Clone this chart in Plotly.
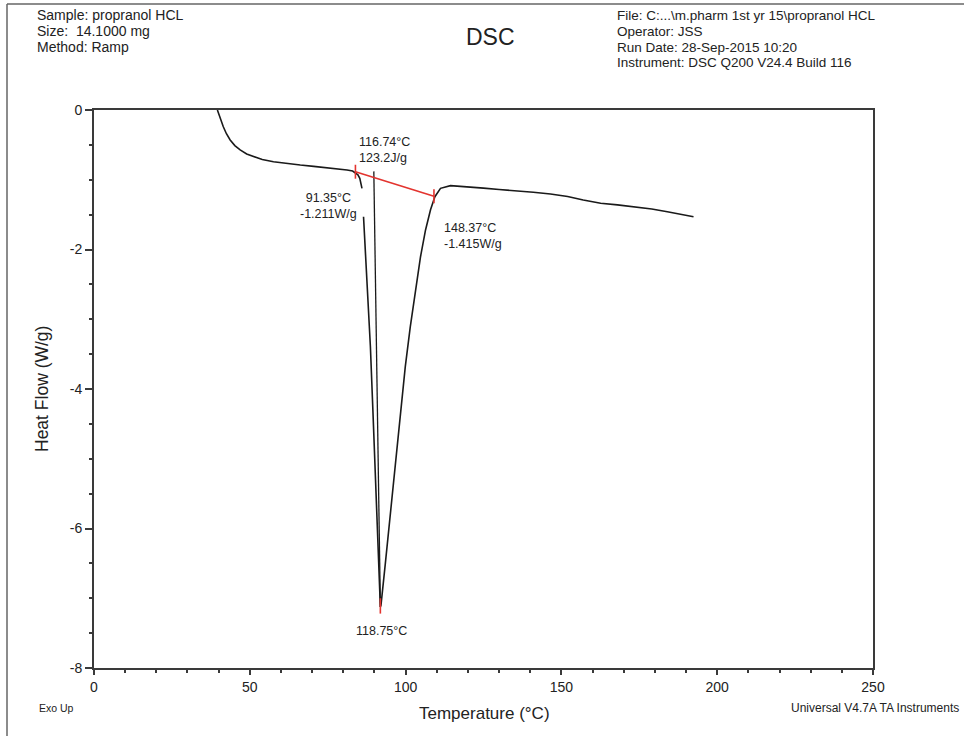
import plotly.graph_objects as go

# ---------------- data ----------------
# main DSC curve, first part (baseline before the melt)
temp_a = [39.6, 40.5, 41.5, 42.5, 43.7, 45.2, 46.9, 49.0, 51.2, 54.0, 57.6, 62.0,
          66.2, 70.5, 74.8, 78.0, 81.2, 83.0, 83.9, 84.7, 85.3, 85.7, 86.0]
heat_a = [0.0, -0.12, -0.24, -0.34, -0.43, -0.51, -0.573, -0.63, -0.67, -0.71, -0.741, -0.768,
          -0.789, -0.808, -0.827, -0.843, -0.86, -0.875, -0.899, -0.93, -0.979, -1.05, -1.123]
# main DSC curve, second part (melting peak and after)
temp_b = [86.5, 87.6, 88.7, 89.5, 90.3, 91.0, 91.5, 91.9,
          92.1, 93.5, 95.1, 96.7, 98.3, 99.9, 101.5, 103.2, 104.8, 106.4, 108.0, 109.4,
          111.2, 114.4, 120.0, 125.0, 130.0, 135.8, 141.0, 146.5, 152.0, 157.0, 161.0,
          162.6, 168.0, 173.3, 179.0, 184.0, 188.0, 192.4]
heat_b = [-1.53, -2.40, -3.39, -4.30, -5.16, -6.00, -6.70, -7.125,
          -7.10, -6.50, -5.78, -5.07, -4.35, -3.68, -3.11, -2.58, -2.10, -1.72, -1.43, -1.243,
          -1.123, -1.085, -1.10, -1.12, -1.14, -1.157, -1.18, -1.204, -1.24, -1.29, -1.33,
          -1.338, -1.36, -1.387, -1.42, -1.458, -1.49, -1.53]
# leader line from the peak-area label
leader_temp = [89.8, 91.9]
leader_heat = [-0.88, -7.125]
# integration baseline (red) and its end markers
base_temp = [83.9, 109.1]
base_heat = [-0.885, -1.236]
marker_temp = [83.9, 109.1, 91.9]
marker_top = [-0.785, -1.136, -7.00]
marker_bottom = [-0.985, -1.336, -7.22]

x_ticks = [0, 50, 100, 150, 200, 250]
y_ticks = [0, -2, -4, -6, -8]

# ---------------- figure ----------------
fig = go.Figure()

fig.add_trace(go.Scatter(
    x=temp_a + [None] + temp_b, y=heat_a + [None] + heat_b,
    mode="lines", line=dict(color="#1a1a1a", width=1.6), connectgaps=False,
    hoverinfo="skip", showlegend=False))
fig.add_trace(go.Scatter(
    x=leader_temp, y=leader_heat, mode="lines",
    line=dict(color="#1a1a1a", width=1.3), hoverinfo="skip", showlegend=False))

red_x, red_y = list(base_temp) + [None], list(base_heat) + [None]
for t, a, b in zip(marker_temp, marker_top, marker_bottom):
    red_x += [t, t, None]
    red_y += [a, b, None]
fig.add_trace(go.Scatter(
    x=red_x, y=red_y, mode="lines", connectgaps=False,
    line=dict(color="#e3342f", width=1.6), hoverinfo="skip", showlegend=False))

FONT = "Liberation Sans, Arial, sans-serif"
TXT = "#222222"
AX = "#3a3a3a"

fig.update_xaxes(
    range=[0, 250], tickvals=x_ticks, ticktext=[str(v) for v in x_ticks],
    showline=True, linecolor=AX, linewidth=2, mirror=True,
    ticks="outside", ticklen=5, tickwidth=1.5, tickcolor=AX,
    minor=dict(dtick=10, ticks="outside", ticklen=3, tickwidth=1.5, tickcolor=AX),
    showgrid=False, zeroline=False,
    tickfont=dict(family=FONT, size=14, color=TXT))
fig.update_yaxes(
    range=[-8, 0], tickvals=y_ticks, ticktext=[str(v) for v in y_ticks],
    showline=True, linecolor=AX, linewidth=2, mirror=True,
    ticks="outside", ticklen=7, tickwidth=1.5, tickcolor=AX,
    minor=dict(dtick=0.5, ticks="outside", ticklen=3, tickwidth=1.5, tickcolor=AX),
    showgrid=False, zeroline=False,
    tickfont=dict(family=FONT, size=14, color=TXT))

W, H = 964, 736
L, R, T, B = 94, 91, 110, 68
pw, ph = W - L - R, H - T - B


def px(xp):
    return (xp - L) / pw


def py(yp):
    return (H - B - yp) / ph


ann = []


def txt(text, xp, yp, size=14, xa="left", ya="middle", angle=0):
    ann.append(dict(text=text, x=px(xp), y=py(yp), xref="paper", yref="paper",
                    xanchor=xa, yanchor=ya, showarrow=False, textangle=angle,
                    font=dict(family=FONT, size=size, color=TXT)))


# header
txt("Sample: propranol HCL", 35, 15)
txt("Size:  14.1000 mg", 35, 31)
txt("Method: Ramp", 35, 47)
txt("DSC", 490, 37, size=23, xa="center")
txt("File: C:...\\m.pharm 1st yr 15\\propranol HCL", 615, 15, size=13.5)
txt("Operator: JSS", 615, 31, size=13.5)
txt("Run Date: 28-Sep-2015 10:20", 615, 47, size=13.5)
txt("Instrument: DSC Q200 V24.4 Build 116", 615, 63, size=13.5)
# footer / axis titles
txt("Exo Up", 37, 708, size=10.5)
txt("Universal V4.7A TA Instruments", 961, 708, size=12, xa="right")
txt("Temperature (°C)", 485, 713, size=17, xa="center")
txt("Heat Flow (W/g)", 42, 389, size=17.5, xa="center", angle=-90)


def dtxt(text, x, y, xa, align):
    ann.append(dict(text=text, x=x, y=y, xref="x", yref="y", xanchor=xa, yanchor="top",
                    align=align, showarrow=False,
                    font=dict(family=FONT, size=12.5, color=TXT)))


dtxt("116.74°C<br>123.2J/g", 84.5, -0.33, "left", "left")
dtxt("91.35°C<br>-1.211W/g", 75.4, -1.13, "center", "center")
dtxt("148.37°C<br>-1.415W/g", 111.8, -1.56, "left", "left")
dtxt("118.75°C", 92.2, -7.34, "center", "center")

shapes = [
    dict(type="line", xref="paper", yref="paper", x0=px(7), x1=px(7), y0=py(4), y1=py(736),
         line=dict(color="#666666", width=1.5)),
    dict(type="line", xref="paper", yref="paper", x0=px(7), x1=px(964), y0=py(4), y1=py(4),
         line=dict(color="#666666", width=1.5)),
]

fig.update_layout(
    width=W, height=H, margin=dict(l=L, r=R, t=T, b=B),
    paper_bgcolor="white", plot_bgcolor="white",
    annotations=ann, shapes=shapes, showlegend=False,
    font=dict(family=FONT, color=TXT))

fig.write_html(
    "out.html",
    config={"displayModeBar": False},
    post_script="document.body.style.margin='0';document.body.style.overflow='hidden';")
